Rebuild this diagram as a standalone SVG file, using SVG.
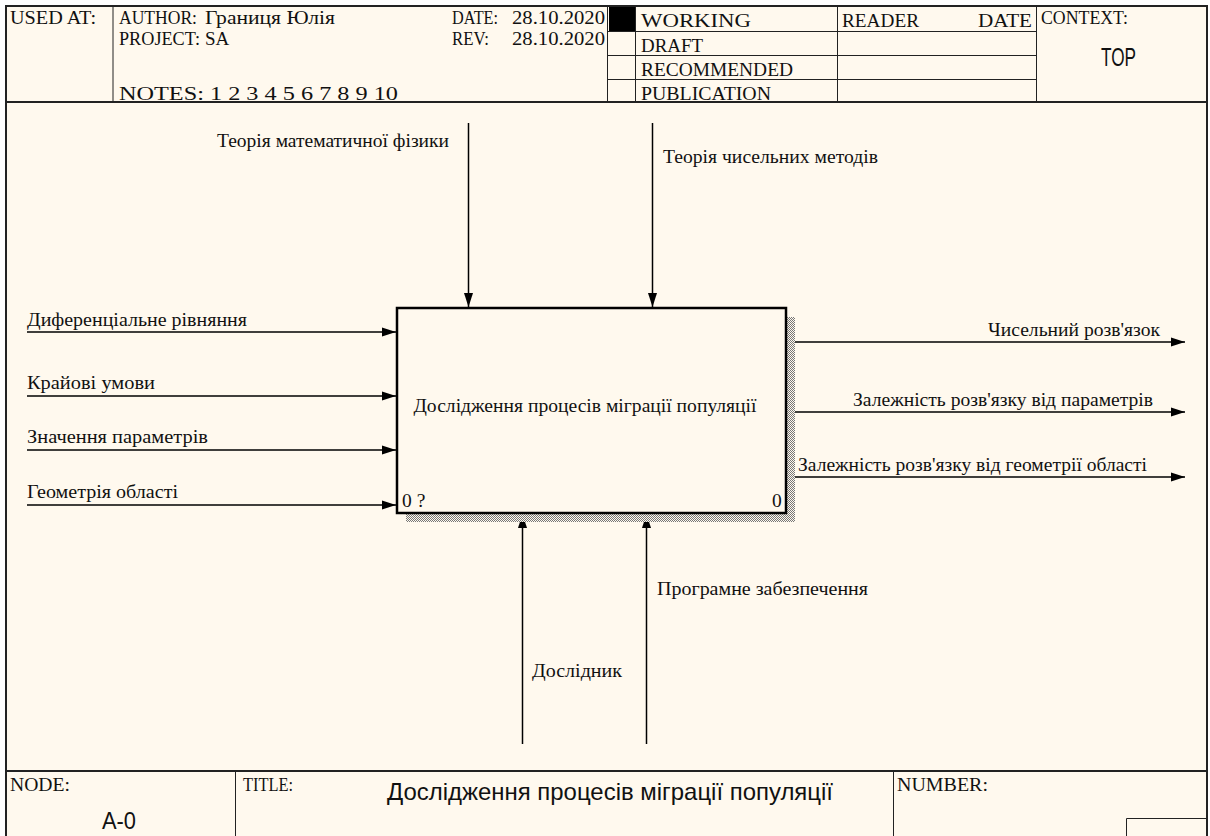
<svg xmlns="http://www.w3.org/2000/svg" width="1210" height="836" viewBox="0 0 1210 836">
<defs>
<style>
.s{font-family:"Liberation Serif","Times New Roman",serif;font-size:19.5px;fill:#111}
.h{font-family:"Liberation Serif","Times New Roman",serif;font-size:19px;fill:#111}
.a{font-family:"Liberation Sans",Arial,sans-serif;fill:#111}
.ln{stroke:#222;stroke-width:1;fill:none}
.fr{stroke:#222;stroke-width:2;fill:none}
.c{stroke:#000;stroke-width:1.5;fill:none;marker-end:url(#ah)}
</style>
<marker id="ah" markerUnits="userSpaceOnUse" markerWidth="14" markerHeight="10" refX="14" refY="5" orient="auto"><path d="M0,0.5 L14,5 L0,9.5 z" fill="#000"/></marker>
<pattern id="hatch" width="2" height="2" patternUnits="userSpaceOnUse"><rect width="2" height="2" fill="#FFF9EE"/><rect width="1" height="1" fill="#777"/><rect x="1" y="1" width="1" height="1" fill="#777"/></pattern>
</defs>
<rect x="0" y="0" width="1210" height="836" fill="#fff"/>
<rect x="6" y="6" width="1201" height="840" fill="#FFF9EE"/>

<g id="frame">
<rect class="fr" x="6" y="6" width="1201" height="840"/>
<line class="fr" x1="6" y1="102" x2="1207" y2="102"/>
<line class="ln" x1="113" y1="6" x2="113" y2="102"/>
<line class="ln" x1="607.5" y1="6" x2="607.5" y2="102"/>
<line class="ln" x1="635.5" y1="6" x2="635.5" y2="102"/>
<line class="ln" x1="837.5" y1="6" x2="837.5" y2="102"/>
<line class="ln" x1="1036.5" y1="6" x2="1036.5" y2="102"/>
<line class="ln" x1="607" y1="31.5" x2="1036" y2="31.5"/>
<line class="ln" x1="607" y1="55.5" x2="1036" y2="55.5"/>
<line class="ln" x1="607" y1="79.5" x2="1036" y2="79.5"/>
<rect x="609" y="7" width="26" height="24" fill="#000"/>
<line class="fr" x1="6" y1="771" x2="1207" y2="771"/>
<line class="ln" x1="235.5" y1="771" x2="235.5" y2="836"/>
<line class="ln" x1="893.5" y1="771" x2="893.5" y2="836"/>
<polyline class="ln" points="1126.5,836 1126.5,818.5 1207,818.5"/>
</g>

<g id="header-text">
<text class="h" x="10" y="24" textLength="86" lengthAdjust="spacingAndGlyphs">USED AT:</text>
<text class="h" x="119" y="24" textLength="78" lengthAdjust="spacingAndGlyphs">AUTHOR:</text>
<text class="h" x="205" y="24" textLength="130" lengthAdjust="spacingAndGlyphs">Границя Юлія</text>
<text class="h" x="119" y="45" textLength="81" lengthAdjust="spacingAndGlyphs">PROJECT:</text>
<text class="h" x="205" y="45">SA</text>
<text class="h" x="119" y="100" textLength="279" lengthAdjust="spacingAndGlyphs">NOTES: 1 2 3 4 5 6 7 8 9 10</text>
<text class="h" x="452" y="24" textLength="46" lengthAdjust="spacingAndGlyphs">DATE:</text>
<text class="h" x="512" y="24" textLength="93" lengthAdjust="spacingAndGlyphs">28.10.2020</text>
<text class="h" x="452" y="45" textLength="37" lengthAdjust="spacingAndGlyphs">REV:</text>
<text class="h" x="512" y="45" textLength="93" lengthAdjust="spacingAndGlyphs">28.10.2020</text>
<text class="h" x="641" y="27" textLength="110" lengthAdjust="spacingAndGlyphs">WORKING</text>
<text class="h" x="641" y="52" textLength="62" lengthAdjust="spacingAndGlyphs">DRAFT</text>
<text class="h" x="641" y="76" textLength="152" lengthAdjust="spacingAndGlyphs">RECOMMENDED</text>
<text class="h" x="641" y="100" textLength="130" lengthAdjust="spacingAndGlyphs">PUBLICATION</text>
<text class="h" x="842" y="27" textLength="77" lengthAdjust="spacingAndGlyphs">READER</text>
<text class="h" x="978" y="27" textLength="54" lengthAdjust="spacingAndGlyphs">DATE</text>
<text class="h" x="1041" y="24" textLength="87" lengthAdjust="spacingAndGlyphs">CONTEXT:</text>
<text class="a" x="1101" y="66" font-size="25" textLength="35" lengthAdjust="spacingAndGlyphs">TOP</text>
</g>

<g id="footer-text">
<text class="h" x="10" y="791" textLength="60" lengthAdjust="spacingAndGlyphs">NODE:</text>
<text class="a" x="102" y="829" font-size="24" textLength="34" lengthAdjust="spacingAndGlyphs">A-0</text>
<text class="h" x="243" y="791" textLength="50" lengthAdjust="spacingAndGlyphs">TITLE:</text>
<text class="a" x="387" y="800" font-size="24" textLength="446" lengthAdjust="spacingAndGlyphs">Дослідження процесів міграції популяції</text>
<text class="h" x="897" y="791" textLength="91" lengthAdjust="spacingAndGlyphs">NUMBER:</text>
</g>

<g id="connectors">
<line class="c" x1="468.5" y1="123" x2="468.5" y2="307"/>
<line class="c" x1="652.5" y1="123" x2="652.5" y2="307"/>
<line class="c" x1="27" y1="332" x2="396" y2="332"/>
<line class="c" x1="27" y1="396" x2="396" y2="396"/>
<line class="c" x1="27" y1="450" x2="396" y2="450"/>
<line class="c" x1="27" y1="505" x2="396" y2="505"/>
<line class="c" x1="787" y1="342" x2="1185" y2="342"/>
<line class="c" x1="787" y1="412" x2="1185" y2="412"/>
<line class="c" x1="787" y1="477" x2="1185" y2="477"/>
<line class="c" x1="522.5" y1="744" x2="522.5" y2="514"/>
<line class="c" x1="646.5" y1="744" x2="646.5" y2="514"/>
</g>

<g id="labels">
<text class="s" x="217" y="147" textLength="232" lengthAdjust="spacingAndGlyphs">Теорія математичної фізики</text>
<text class="s" x="663" y="163" textLength="215" lengthAdjust="spacingAndGlyphs">Теорія чисельних методів</text>
<text class="s" x="27" y="326" textLength="220" lengthAdjust="spacingAndGlyphs">Диференціальне рівняння</text>
<text class="s" x="27" y="389" textLength="128" lengthAdjust="spacingAndGlyphs">Крайові умови</text>
<text class="s" x="27" y="443" textLength="181" lengthAdjust="spacingAndGlyphs">Значення параметрів</text>
<text class="s" x="27" y="498" textLength="151" lengthAdjust="spacingAndGlyphs">Геометрія області</text>
<text class="s" x="988" y="336" textLength="172" lengthAdjust="spacingAndGlyphs">Чисельний розв'язок</text>
<text class="s" x="853" y="406" textLength="300" lengthAdjust="spacingAndGlyphs">Залежність розв'язку від параметрів</text>
<text class="s" x="798" y="471" textLength="349" lengthAdjust="spacingAndGlyphs">Залежність розв'язку від геометрії області</text>
<text class="s" x="532" y="677" textLength="90" lengthAdjust="spacingAndGlyphs">Дослідник</text>
<text class="s" x="657" y="595" textLength="211" lengthAdjust="spacingAndGlyphs">Програмне забезпечення</text>
</g>

<g id="node-A0">
<rect x="406" y="317" width="389" height="205" fill="url(#hatch)"/>
<rect x="397" y="308" width="389" height="205" fill="#FFF9EE" stroke="#000" stroke-width="2.5"/>
<text class="s" x="585" y="412" text-anchor="middle" textLength="343" lengthAdjust="spacingAndGlyphs">Дослідження процесів міграції популяції</text>
<text class="s" x="402" y="507">0 ?</text>
<text class="s" x="772" y="507">0</text>
</g>
</svg>
